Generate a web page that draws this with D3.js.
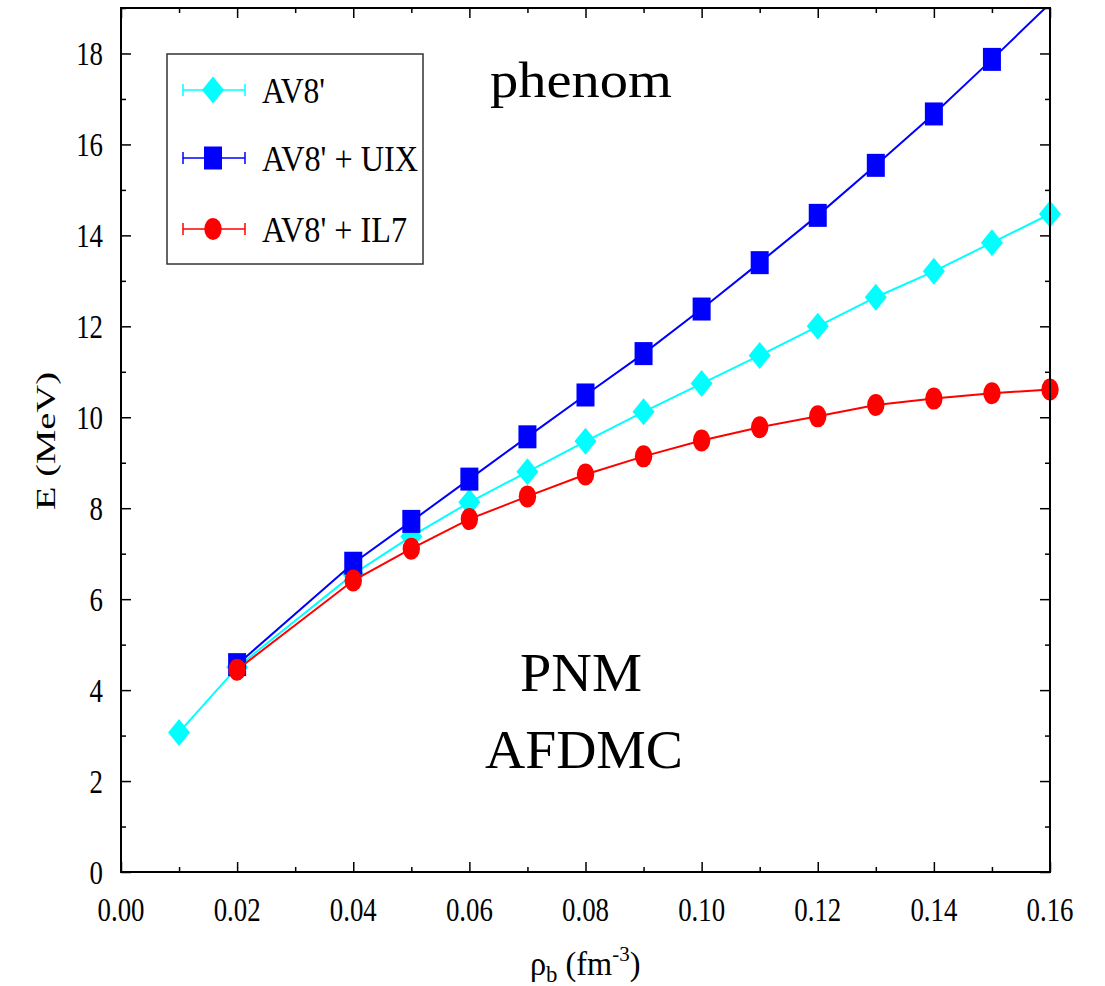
<!DOCTYPE html>
<html>
<head>
<meta charset="utf-8">
<script src="https://cdn.jsdelivr.net/npm/d3@7"></script>
<style>
  html, body { margin: 0; padding: 0; background: #fff; }
  svg { display: block; }
  text { font-family: "Liberation Serif", "DejaVu Serif", serif; fill: #000; }
</style>
</head>
<body>
<svg id="chart" width="1105" height="986"></svg>
<script>
// ---- data ----
const densityAV8 = [0.01, 0.02, 0.04, 0.05, 0.06, 0.07, 0.08, 0.09, 0.10, 0.11, 0.12, 0.13, 0.14, 0.15, 0.16];
const energyAV8  = [3.07, 4.50, 6.55, 7.38, 8.13, 8.80, 9.47, 10.12, 10.74, 11.36, 12.00, 12.64, 13.21, 13.84, 14.47];

const densityUIX = [0.02, 0.04, 0.05, 0.06, 0.07, 0.08, 0.09, 0.10, 0.11, 0.12, 0.13, 0.14, 0.15, 0.16];
const energyUIX  = [4.56, 6.79, 7.71, 8.64, 9.57, 10.49, 11.40, 12.38, 13.40, 14.44, 15.54, 16.67, 17.87, 19.10];

const densityIL7 = [0.02, 0.04, 0.05, 0.06, 0.07, 0.08, 0.09, 0.10, 0.11, 0.12, 0.13, 0.14, 0.15, 0.16];
const energyIL7  = [4.45, 6.41, 7.11, 7.76, 8.26, 8.74, 9.14, 9.49, 9.78, 10.02, 10.27, 10.41, 10.53, 10.61];

const seriesNames = ["AV8'", "AV8' + UIX", "AV8' + IL7"];
const xTickLabels = ["0.00", "0.02", "0.04", "0.06", "0.08", "0.10", "0.12", "0.14", "0.16"];
const yTickLabels = ["0", "2", "4", "6", "8", "10", "12", "14", "16", "18"];

// ---- layout ----
const FONT = "Liberation Serif, DejaVu Serif, serif";
const svg = d3.select("#chart");
const L = 121, R = 1050, T = 8, B = 872;
const x = d3.scaleLinear().domain([0, 0.16]).range([L, R]);
const y = d3.scaleLinear().domain([0, 19]).range([B, T]);
const SX = 0.79; // horizontal squeeze of all glyphs

const series = [
  { name: seriesNames[0], xs: densityAV8, ys: energyAV8, color: "#00ffff", shape: "diamond", legendW: 63 },
  { name: seriesNames[1], xs: densityUIX, ys: energyUIX, color: "#0000ff", shape: "square", legendW: 156 },
  { name: seriesNames[2], xs: densityIL7, ys: energyIL7, color: "#ff0000", shape: "circle", legendW: 145 }
];

svg.append("defs").append("clipPath").attr("id", "plotclip")
  .append("rect").attr("x", 0).attr("y", T).attr("width", 1105).attr("height", B - T);

function drawMarker(g, shape, color, cx, cy) {
  if (shape === "diamond") {
    g.append("path")
      .attr("d", `M${cx},${cy - 13.5} L${cx + 11},${cy} L${cx},${cy + 13.5} L${cx - 11},${cy} Z`)
      .attr("fill", color);
  } else if (shape === "square") {
    g.append("rect").attr("x", cx - 9).attr("y", cy - 11.5)
      .attr("width", 18).attr("height", 23).attr("fill", color);
  } else {
    g.append("ellipse").attr("cx", cx).attr("cy", cy)
      .attr("rx", 8.7).attr("ry", 11).attr("fill", color);
  }
}

// ---- series ----
const line = d3.line().x(d => x(d[0])).y(d => y(d[1]));
series.forEach(s => {
  const pts = s.xs.map((v, i) => [v, s.ys[i]]);
  const g = svg.append("g");
  g.append("path").datum(pts)
    .attr("d", line)
    .attr("fill", "none")
    .attr("stroke", s.color)
    .attr("stroke-width", 2)
    .attr("clip-path", "url(#plotclip)");
  const mg = g.append("g").attr("clip-path", "url(#plotclip)");
  pts.filter(p => p[1] <= 19).forEach(p => drawMarker(mg, s.shape, s.color, x(p[0]), y(p[1])));
});

// ---- frame & ticks ----
svg.append("rect").attr("x", L).attr("y", T).attr("width", R - L).attr("height", B - T)
  .attr("fill", "none").attr("stroke", "#000").attr("stroke-width", 2);

const xMajor = d3.range(0, 9).map(i => i * 0.02);
const xMinor = d3.range(0, 8).map(i => i * 0.02 + 0.01);
const yMajor = d3.range(0, 10).map(i => i * 2);
const yMinor = d3.range(0, 10).map(i => i * 2 + 1);

function tickAxis(axisFn, scale, vals, size, tr) {
  const g = svg.append("g").attr("transform", tr)
    .call(axisFn(scale).tickValues(vals).tickSize(-size).tickFormat(""));
  g.select(".domain").remove();
  g.selectAll(".tick line").attr("stroke", "#000").attr("stroke-width", 1.5);
}
tickAxis(d3.axisBottom, x, xMajor, 10, `translate(0,${B})`);
tickAxis(d3.axisBottom, x, xMinor, 5, `translate(0,${B})`);
tickAxis(d3.axisTop, x, xMajor, 10, `translate(0,${T})`);
tickAxis(d3.axisTop, x, xMinor, 5, `translate(0,${T})`);
tickAxis(d3.axisLeft, y, yMajor, 10, `translate(${L},0)`);
tickAxis(d3.axisLeft, y, yMinor, 5, `translate(${L},0)`);
tickAxis(d3.axisRight, y, yMajor, 10, `translate(${R},0)`);
tickAxis(d3.axisRight, y, yMinor, 5, `translate(${R},0)`);

// tick labels
svg.append("g").selectAll("text").data(xMajor).join("text")
  .attr("transform", (d) => `translate(${x(d)},921) scale(${SX},1)`)
  .attr("text-anchor", "middle")
  .attr("font-family", FONT)
  .attr("font-size", 34)
  .text((d, i) => xTickLabels[i]);

svg.append("g").selectAll("text").data(yMajor).join("text")
  .attr("transform", (d) => `translate(103,${y(d) + 12}) scale(${SX},1)`)
  .attr("text-anchor", "end")
  .attr("font-family", FONT)
  .attr("font-size", 34)
  .text((d, i) => yTickLabels[i]);

// axis titles
svg.append("text")
  .attr("transform", `translate(55,441) rotate(-90)`)
  .attr("text-anchor", "middle")
  .attr("font-family", FONT)
  .attr("font-size", 28)
  .attr("textLength", 138).attr("lengthAdjust", "spacingAndGlyphs")
  .text("E (MeV)");

const xl = svg.append("text")
  .attr("transform", `translate(530,975) scale(0.95,1)`)
  .attr("font-family", FONT)
  .attr("font-size", 34);
xl.append("tspan").text("ρ");
xl.append("tspan").attr("font-size", 24).attr("dy", 7).text("b");
xl.append("tspan").attr("dy", -7).text(" (fm");
xl.append("tspan").attr("font-size", 22).attr("dy", -14).text("-3");
xl.append("tspan").attr("dy", 14).text(")");

// annotations
svg.append("text").attr("x", 490).attr("y", 97).attr("font-size", 50).attr("font-family", FONT)
  .attr("textLength", 182).attr("lengthAdjust", "spacingAndGlyphs").text("phenom");
svg.append("text").attr("x", 520).attr("y", 691).attr("font-size", 54).attr("font-family", FONT)
  .attr("textLength", 122).attr("lengthAdjust", "spacingAndGlyphs").text("PNM");
svg.append("text").attr("x", 485).attr("y", 768).attr("font-size", 54).attr("font-family", FONT)
  .attr("textLength", 198).attr("lengthAdjust", "spacingAndGlyphs").text("AFDMC");

// ---- legend ----
const lg = svg.append("g");
lg.append("rect").attr("x", 167).attr("y", 54).attr("width", 256).attr("height", 210)
  .attr("fill", "#fff").attr("stroke", "#333").attr("stroke-width", 1.5);
const rowY = [90, 158, 229];
series.forEach((s, i) => {
  const ry = rowY[i];
  const g = lg.append("g");
  g.append("line").attr("x1", 183).attr("x2", 245).attr("y1", ry).attr("y2", ry)
    .attr("stroke", s.color).attr("stroke-width", 2).attr("stroke-opacity", 0.75);
  [183, 245].forEach(cx => g.append("line").attr("x1", cx).attr("x2", cx)
    .attr("y1", ry - 6).attr("y2", ry + 6)
    .attr("stroke", s.color).attr("stroke-width", 2).attr("stroke-opacity", 0.75));
  drawMarker(g, s.shape, s.color, 213, ry);
  g.append("text").attr("x", 262).attr("y", ry + 13).attr("font-size", 36).attr("font-family", FONT)
    .attr("textLength", s.legendW).attr("lengthAdjust", "spacingAndGlyphs")
    .text(s.name);
});
</script>
</body>
</html>
